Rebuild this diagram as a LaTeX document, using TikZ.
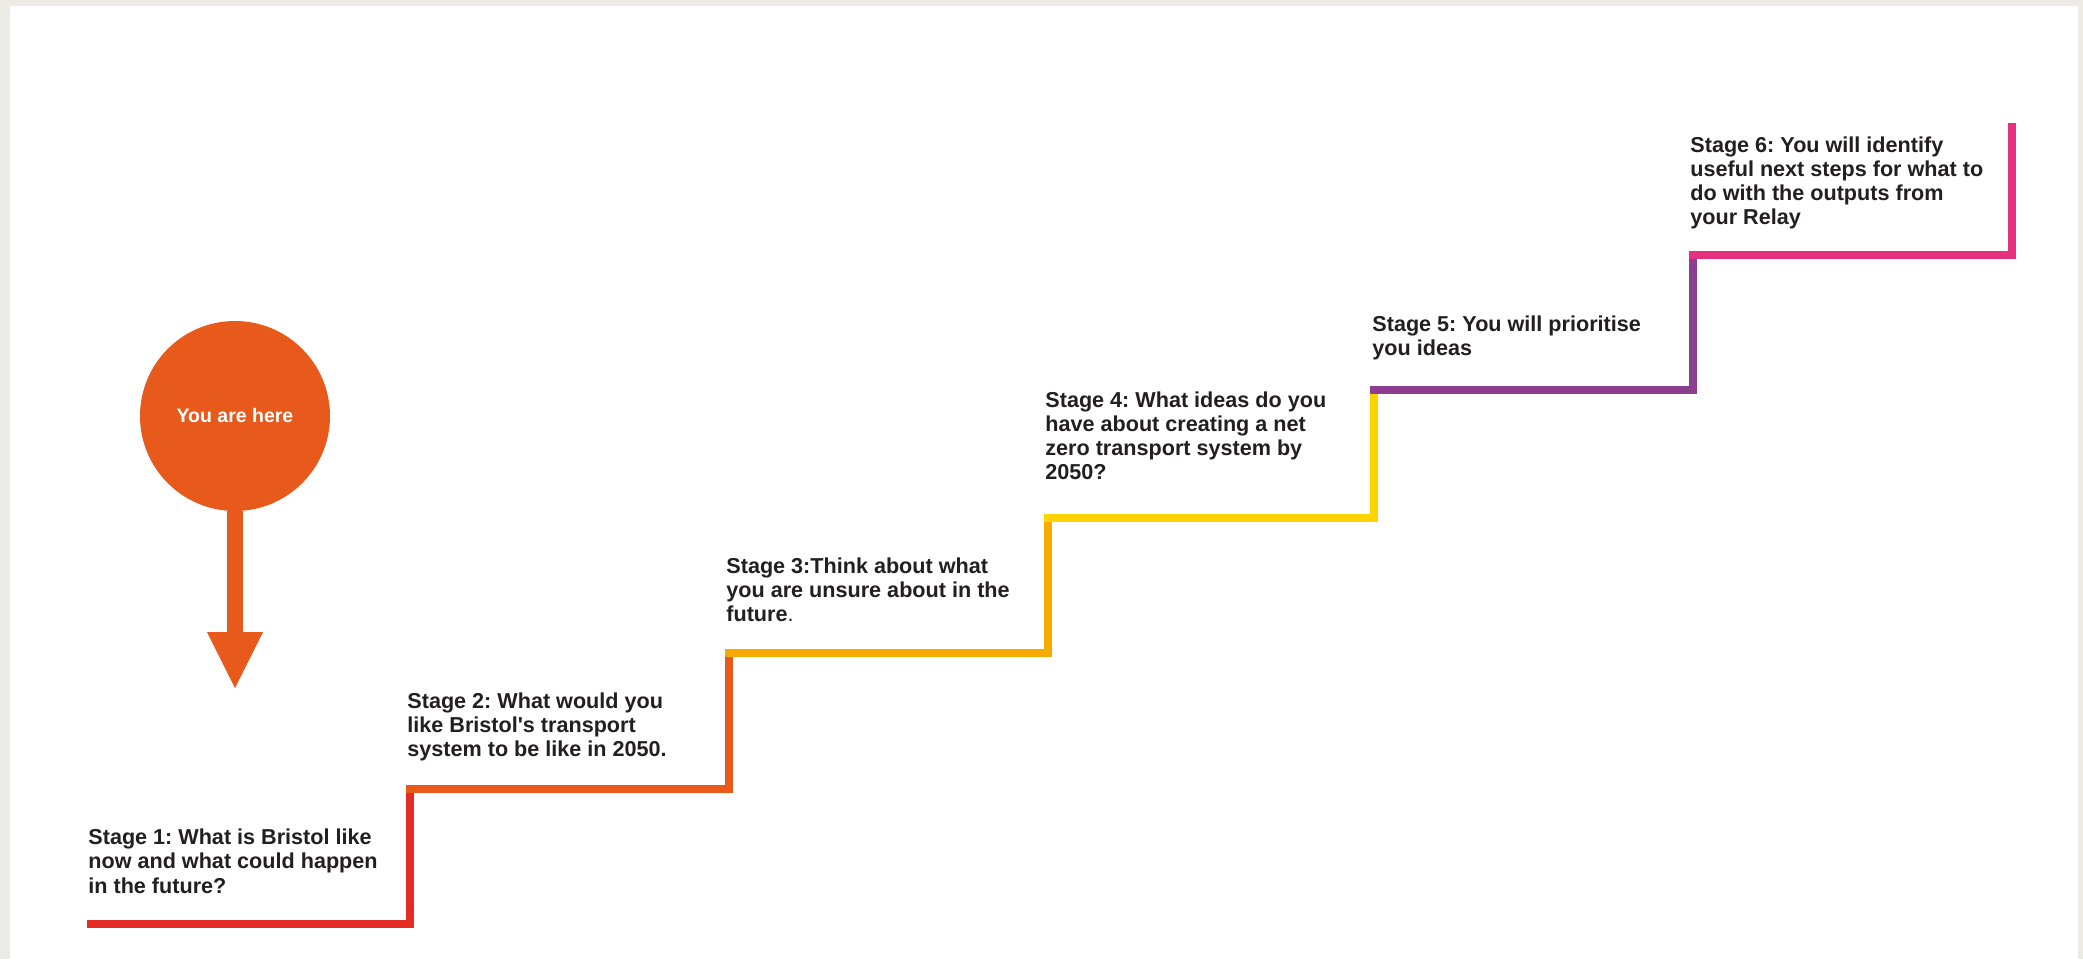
\documentclass[tikz,border=0pt]{standalone}
\usepackage{fontspec}
\setmainfont{Liberation Sans}[Ligatures=TeXOff]
\usetikzlibrary{arrows.meta}
\frenchspacing
\definecolor{framegray}{HTML}{EBEAE5}
\definecolor{txt}{HTML}{231F20}
\definecolor{c1}{HTML}{E42B24}
\definecolor{c2}{HTML}{E8591A}
\definecolor{c3}{HTML}{F7AB00}
\definecolor{c4}{HTML}{FFD200}
\definecolor{c5}{HTML}{8C3E8F}
\definecolor{c6}{HTML}{E5317E}
\definecolor{here}{HTML}{E75A1B}
\tikzset{
  stair/.style={line width=4pt, line join=miter, line cap=butt},
  stagetext/.style={anchor=base west, inner sep=0pt, align=left, text=txt,
    font=\bfseries\fontsize{10.8}{12.15}\selectfont},
}
\begin{document}
\begin{tikzpicture}[x=0.5pt, y=-0.5pt]
\useasboundingbox (0,0) rectangle (2083,959);
\fill[framegray] (0,0) rectangle (2083,959);
\fill[white] (10,6) rectangle (2078,959);

% stair corner coordinates
\coordinate (s1a) at (87,924);  \coordinate (s1b) at (410,924);  \coordinate (s1c) at (410,789);
\coordinate (s2a) at (406,789); \coordinate (s2b) at (729,789);  \coordinate (s2c) at (729,653);
\coordinate (s3a) at (725,653); \coordinate (s3b) at (1048,653); \coordinate (s3c) at (1048,518);
\coordinate (s4a) at (1044,518);\coordinate (s4b) at (1374,518); \coordinate (s4c) at (1374,390);
\coordinate (s5a) at (1370,390);\coordinate (s5b) at (1693,390); \coordinate (s5c) at (1693,255);
\coordinate (s6a) at (1689,255);\coordinate (s6b) at (2012,255); \coordinate (s6c) at (2012,123);

\draw[stair, c1] (s1a) -- (s1b) -- (s1c);
\draw[stair, c2] (s2a) -- (s2b) -- (s2c);
\draw[stair, c3] (s3a) -- (s3b) -- (s3c);
\draw[stair, c4] (s4a) -- (s4b) -- (s4c);
\draw[stair, c5] (s5a) -- (s5b) -- (s5c);
\draw[stair, c6] (s6a) -- (s6b) -- (s6c);

% stage texts (anchor = baseline of last line)
\node[stagetext] (t1) at (88,893) {Stage 1: What is Bristol like\\now and what could happen\\in the future?};
\node[stagetext] (t2) at (407,756.6) {Stage 2: What would you\\like Bristol's transport\\system to be like in 2050.};
\node[stagetext] (t3) at (726,621.6) {Stage 3:Think about what\\you are unsure about in the\\future{\mdseries .}};
\node[stagetext] (t4) at (1045,479.9) {Stage 4: What ideas do you\\have about creating a net\\zero transport system by\\2050?};
\node[stagetext] (t5) at (1372,355.3) {Stage 5: You will prioritise\\you ideas};
\node[stagetext] (t6) at (1690,224.9) {Stage 6: You will identify\\useful next steps for what to\\do with the outputs from\\your Relay};

% you are here
\node[circle, fill=here, inner sep=0pt, minimum size=95pt, text=white,
      font=\bfseries\fontsize{9.75}{11}\selectfont] (yah) at (235,416) {You are here};
\coordinate (tip) at (235,688);
\draw[here, line width=8pt, -{Triangle[length=28pt, width=28pt, line width=0pt]}] (yah.south) -- (tip);
\end{tikzpicture}
\end{document}
